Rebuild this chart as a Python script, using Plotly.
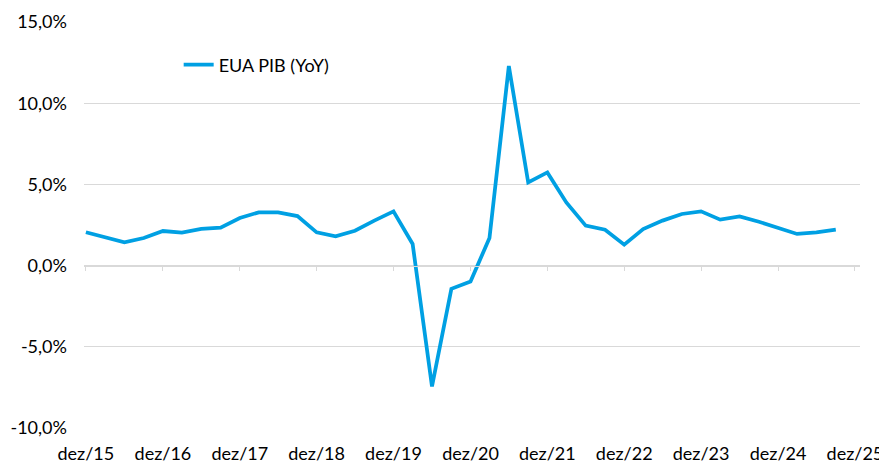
import plotly.graph_objects as go
import pandas as pd

# Quarterly dates (quarter-end month), Q4 2015 .. Q3 2025
dates = pd.date_range("2015-12-01", periods=40, freq="3MS")
gdp_yoy = [2.05, 1.75, 1.43, 1.70, 2.13, 2.03, 2.26, 2.34, 2.93, 3.28,
           3.28, 3.05, 2.05, 1.80, 2.15, 2.77, 3.34, 1.33, -7.44, -1.43,
           -0.98, 1.70, 12.29, 5.12, 5.74, 3.89, 2.46, 2.21, 1.29, 2.25,
           2.77, 3.18, 3.34, 2.83, 3.03, 2.70, 2.35, 1.95, 2.05, 2.21]

series_name = "EUA PIB (YoY)"
y_tickvals = [-10, -5, 0, 5, 10, 15]
y_ticktext = ["-10,0%", "-5,0%", "0,0%", "5,0%", "10,0%", "15,0%"]
x_tickvals = pd.date_range("2015-12-01", "2025-12-01", freq="12MS")
x_ticktext = ["dez/15", "dez/16", "dez/17", "dez/18", "dez/19", "dez/20",
              "dez/21", "dez/22", "dez/23", "dez/24", "dez/25"]

x_range = ["2015-11-22", "2025-12-25"]
FONT = "Lato"
FS = 18

fig = go.Figure()
fig.add_trace(go.Scatter(
    x=dates, y=gdp_yoy, mode="lines", name=series_name,
    line=dict(color="#00A0E3", width=3.75),
    hoverinfo="skip",
))
# invisible trace for the category axis drawn at the zero line
fig.add_trace(go.Scatter(x=[dates[0]], y=[None], xaxis="x2", showlegend=False,
                         hoverinfo="skip"))

# page body has an 8px margin, so the figure is sized to compensate
fig.update_layout(
    width=879, height=456,
    margin=dict(l=76, r=27, t=14, b=36, autoexpand=False),
    paper_bgcolor="white", plot_bgcolor="white",
    font=dict(family=FONT, size=FS, color="#000000"),
    showlegend=True,
    legend=dict(x=0.122, y=0.894, xanchor="left", yanchor="middle",
                bgcolor="rgba(0,0,0,0)", font=dict(family=FONT, size=FS),
                itemwidth=30),
    xaxis=dict(
        type="date", range=x_range, automargin=False,
        tickvals=x_tickvals, ticktext=x_ticktext,
        showgrid=False, showline=False, zeroline=False, ticks="",
        ticklabelstandoff=13,
        tickfont=dict(family=FONT, size=FS),
    ),
    xaxis2=dict(
        type="date", range=x_range, overlaying="x", anchor="free",
        position=0.4, side="bottom", automargin=False,
        tickvals=x_tickvals, showticklabels=False,
        showgrid=False, showline=True, linecolor="#d9d9d9", linewidth=1,
        ticks="outside", ticklen=4, tickcolor="#d9d9d9", tickwidth=1,
    ),
    yaxis=dict(
        range=[-10, 15], tickvals=y_tickvals, ticktext=y_ticktext,
        automargin=False,
        showgrid=True, gridcolor="#d9d9d9", gridwidth=1,
        zeroline=False, showline=False, ticks="",
        ticklabelstandoff=16,
        tickfont=dict(family=FONT, size=FS),
    ),
)

fig.write_html("out.html")
